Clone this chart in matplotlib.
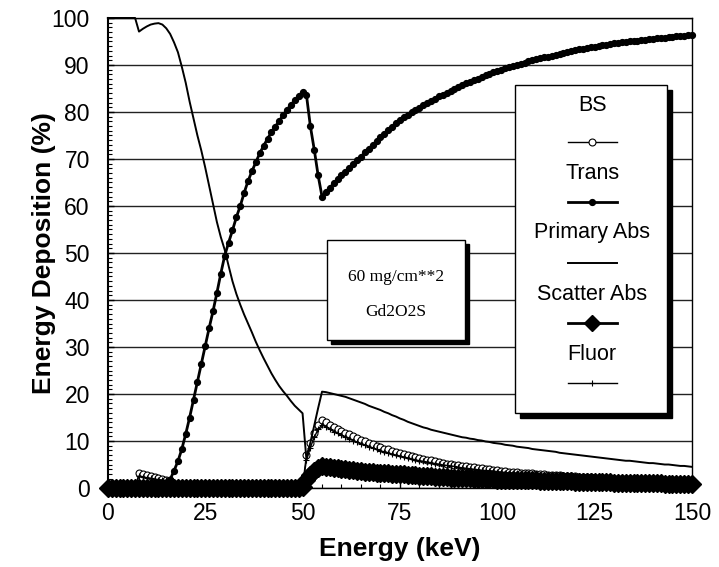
import matplotlib
matplotlib.use("Agg")
import matplotlib.pyplot as plt
from matplotlib.patches import Rectangle
from matplotlib.ticker import MultipleLocator

plt.rcParams['font.family'] = ['Liberation Sans', 'DejaVu Sans']

# ---------------- data ----------------
energy_kev = list(range(0, 151))

bs = [0, 0, 0, 0, 0, 0, 0, 0, 3.1, 2.9,
      2.7, 2.5, 2.3, 2.1, 2.0, 1.8, 1.7, 0.8, 0.6, 0.5,
      0.4, 0.4, 0.4, 0.4, 0.4, 0.4, 0.4, 0.4, 0.4, 0.4,
      0.4, 0.4, 0.4, 0.4, 0.4, 0.4, 0.4, 0.4, 0.4, 0.4,
      0.4, 0.4, 0.4, 0.4, 0.4, 0.4, 0.4, 0.4, 0.4, 0.4,
      0.4, 7.0, 9.6, 11.8, 13.5, 14.5, 14.0, 13.5, 13.0, 12.6,
      12.2, 11.8, 11.4, 11.0, 10.6, 10.3, 9.9, 9.6, 9.3, 9.0,
      8.7, 8.4, 8.2, 7.9, 7.7, 7.4, 7.2, 7.0, 6.8, 6.6,
      6.4, 6.2, 6.0, 5.9, 5.7, 5.5, 5.4, 5.2, 5.1, 5.0,
      4.8, 4.7, 4.6, 4.5, 4.4, 4.3, 4.2, 4.1, 4.0, 3.9,
      3.8, 3.7, 3.6, 3.5, 3.5, 3.4, 3.3, 3.2, 3.2, 3.1,
      3.0, 3.0, 2.9, 2.8, 2.8, 2.7, 2.7, 2.6, 2.6, 2.5,
      2.5, 2.4, 2.4, 2.3, 2.3, 2.2, 2.2, 2.2, 2.1, 2.1,
      2.0, 2.0, 2.0, 1.9, 1.9, 1.9, 1.8, 1.8, 1.8, 1.7,
      1.7, 1.7, 1.7, 1.6, 1.6, 1.6, 1.6, 1.5, 1.5, 1.5,
      1.5]

trans = [0, 0, 0, 0, 0, 0, 0, 0, 0, 0,
         0, 0, 0, 0, 0, 0.3, 1.8, 3.7, 5.7, 8.3,
         11.5, 15.0, 18.8, 22.6, 26.3, 30.2, 34.0, 37.6, 41.5, 45.6,
         49.4, 52.2, 54.8, 57.6, 60.0, 62.8, 65.3, 67.4, 69.3, 71.2,
         72.8, 74.3, 75.7, 76.9, 78.1, 79.3, 80.5, 81.5, 82.5, 83.4,
         84.3, 83.6, 77.0, 72.0, 66.5, 62.0, 63.0, 63.9, 64.8, 65.7,
         66.5, 67.3, 68.1, 68.9, 69.7, 70.5, 71.4, 72.2, 73.0, 73.8,
         74.6, 75.4, 76.1, 76.8, 77.6, 78.3, 78.9, 79.4, 79.9, 80.4,
         80.9, 81.4, 81.9, 82.4, 82.8, 83.3, 83.7, 84.1, 84.5, 84.9,
         85.3, 85.7, 86.1, 86.4, 86.8, 87.1, 87.4, 87.8, 88.1, 88.4,
         88.7, 89.0, 89.3, 89.5, 89.8, 90.0, 90.3, 90.5, 90.8, 91.0,
         91.2, 91.4, 91.6, 91.8, 92.0, 92.2, 92.4, 92.6, 92.8, 93.0,
         93.2, 93.3, 93.5, 93.6, 93.8, 93.9, 94.1, 94.2, 94.3, 94.4,
         94.6, 94.7, 94.8, 94.9, 95.0, 95.1, 95.2, 95.3, 95.4, 95.5,
         95.6, 95.7, 95.8, 95.8, 95.9, 96.0, 96.1, 96.2, 96.2, 96.3,
         96.4]

primary_abs = [100, 100, 100, 100, 100, 100, 100, 100, 97.1, 97.7,
               98.2, 98.6, 98.8, 98.9, 98.6, 97.8, 96.6, 94.8, 92.7, 89.6,
               86.2, 82.2, 78.6, 75.0, 71.8, 68.2, 64.3, 60.4, 56.6, 53.4,
               50.7, 47.3, 44.0, 41.3, 39.0, 36.9, 35.0, 33.1, 31.1, 29.3,
               27.6, 26.0, 24.4, 23.0, 21.7, 20.6, 19.6, 18.5, 17.5, 16.7,
               15.9, 6.0, 9.6, 13.3, 17.0, 20.5, 20.4, 20.2, 20.0, 19.8,
               19.6, 19.4, 19.1, 18.8, 18.5, 18.2, 17.9, 17.5, 17.2, 16.9,
               16.6, 16.2, 15.9, 15.5, 15.2, 14.8, 14.5, 14.1, 13.8, 13.5,
               13.2, 12.9, 12.7, 12.4, 12.2, 12.0, 11.8, 11.6, 11.4, 11.2,
               11.0, 10.8, 10.7, 10.5, 10.4, 10.2, 10.1, 9.9, 9.8, 9.6,
               9.5, 9.4, 9.2, 9.1, 9.0, 8.8, 8.7, 8.6, 8.5, 8.3,
               8.2, 8.1, 8.0, 7.9, 7.8, 7.7, 7.5, 7.4, 7.3, 7.2,
               7.1, 7.0, 6.9, 6.8, 6.7, 6.6, 6.5, 6.4, 6.3, 6.2,
               6.1, 6.0, 5.9, 5.8, 5.8, 5.7, 5.6, 5.5, 5.4, 5.3,
               5.3, 5.2, 5.1, 5.0, 5.0, 4.9, 4.8, 4.7, 4.7, 4.6,
               4.5]

scatter_abs = [0, 0, 0, 0, 0, 0, 0, 0, 0, 0,
               0, 0, 0, 0, 0, 0, 0, 0, 0, 0,
               0, 0, 0, 0, 0, 0, 0, 0, 0, 0,
               0, 0, 0, 0, 0, 0, 0, 0, 0, 0,
               0, 0, 0, 0, 0, 0, 0, 0, 0, 0,
               0.3, 1.8, 2.8, 3.6, 4.2, 4.6, 4.5, 4.4, 4.3, 4.2,
               4.1, 4.0, 3.9, 3.8, 3.7, 3.6, 3.5, 3.5, 3.4, 3.3,
               3.3, 3.2, 3.1, 3.0, 3.0, 2.9, 2.9, 2.8, 2.7, 2.7,
               2.6, 2.6, 2.5, 2.5, 2.4, 2.4, 2.3, 2.3, 2.2, 2.2,
               2.2, 2.1, 2.1, 2.1, 2.0, 2.0, 2.0, 1.9, 1.9, 1.9,
               1.8, 1.8, 1.8, 1.7, 1.7, 1.7, 1.7, 1.6, 1.6, 1.6,
               1.6, 1.5, 1.5, 1.5, 1.5, 1.4, 1.4, 1.4, 1.4, 1.4,
               1.3, 1.3, 1.3, 1.3, 1.3, 1.2, 1.2, 1.2, 1.2, 1.2,
               1.1, 1.1, 1.1, 1.1, 1.1, 1.1, 1.0, 1.0, 1.0, 1.0,
               1.0, 1.0, 1.0, 0.9, 0.9, 0.9, 0.9, 0.9, 0.9, 0.9,
               0.9]

fluor = [0, 0, 0, 0, 0, 0, 0, 0, 2.6, 2.4,
         2.2, 2.1, 1.9, 1.8, 1.7, 1.6, 1.5, 0.3, 0.3, 0.3,
         0.3, 0.3, 0.3, 0.3, 0.3, 0.3, 0.3, 0.3, 0.3, 0.3,
         0.3, 0.3, 0.3, 0.3, 0.3, 0.3, 0.3, 0.3, 0.3, 0.3,
         0.3, 0.3, 0.3, 0.3, 0.3, 0.3, 0.3, 0.3, 0.3, 0.3,
         0.3, 6.0, 8.6, 10.8, 12.5, 13.4, 13.0, 12.5, 12.0, 11.6,
         11.2, 10.8, 10.4, 10.1, 9.7, 9.4, 9.1, 8.8, 8.5, 8.2,
         7.9, 7.7, 7.5, 7.2, 7.0, 6.8, 6.6, 6.4, 6.2, 6.0,
         5.8, 5.7, 5.5, 5.4, 5.2, 5.1, 4.9, 4.8, 4.7, 4.6,
         4.4, 4.3, 4.2, 4.1, 4.0, 3.9, 3.8, 3.7, 3.7, 3.6,
         3.5, 3.4, 3.3, 3.2, 3.2, 3.1, 3.0, 3.0, 2.9, 2.8,
         2.8, 2.7, 2.7, 2.6, 2.6, 2.5, 2.5, 2.4, 2.4, 2.3,
         2.3, 2.2, 2.2, 2.1, 2.1, 2.0, 2.0, 2.0, 1.9, 1.9,
         1.9, 1.8, 1.8, 1.8, 1.7, 1.7, 1.7, 1.6, 1.6, 1.6,
         1.5, 1.5, 1.5, 1.5, 1.4, 1.4, 1.4, 1.4, 1.3, 1.3,
         1.3]

series_labels = ["BS", "Trans", "Primary Abs", "Scatter Abs", "Fluor"]
x_ticks = [0, 25, 50, 75, 100, 125, 150]
y_ticks = [0, 10, 20, 30, 40, 50, 60, 70, 80, 90, 100]
box_lines = ["60 mg/cm**2", "Gd2O2S"]

# ---------------- figure ----------------
fig = plt.figure(figsize=(7.19, 5.67), dpi=100)
ax = fig.add_axes([0.150, 0.1393, 0.8124, 0.8290])

styles = [
    dict(color='black', lw=1.0, marker='o', ms=5, mfc='white', mec='black', mew=0.8),
    dict(color='black', lw=2.0, marker='o', ms=4.2, mfc='black', mec='black'),
    dict(color='black', lw=1.4, marker=None),
    dict(color='black', lw=2.0, marker='D', ms=9.5, mfc='black', mec='black'),
    dict(color='black', lw=1.0, marker='+', ms=4.5, mew=0.8),
]
series = [bs, trans, primary_abs, scatter_abs, fluor]
for vals, st in zip(series, styles):
    ax.plot(energy_kev, vals, clip_on=False, zorder=3, **st)

ax.set_xlim(0, 150)
ax.set_ylim(0, 100)
ax.set_xticks(x_ticks)
ax.set_yticks(y_ticks)
ax.xaxis.set_minor_locator(MultipleLocator(5))
ax.yaxis.set_minor_locator(MultipleLocator(1))
ax.tick_params(axis='both', which='major', direction='in', length=4, width=1,
               labelsize=16.5, color='black')
ax.tick_params(axis='y', which='major', pad=13)
ax.tick_params(axis='x', which='major', pad=10)
ax.tick_params(axis='both', which='minor', direction='in', length=3, width=0.8)
ax.grid(axis='y', which='major', color='#222222', lw=1.0)
ax.set_axisbelow(True)
for s in ['top', 'right', 'bottom']:
    ax.spines[s].set_linewidth(1.0)
ax.spines['left'].set_linewidth(1.5)

ax.set_xlabel("Energy (keV)", fontsize=19, fontweight='bold', labelpad=9)
ax.set_ylabel("Energy Deposition (%)", fontsize=19, fontweight='bold', labelpad=-3)

# ---------------- legend (labels above samples) ----------------
T = ax.transAxes
sx, sy = 0.0086, 0.0106
lx0, lx1, ly0, ly1 = 0.697, 0.958, 0.160, 0.857
ax.add_patch(Rectangle((lx0 + sx, ly0 - sy), lx1 - lx0, ly1 - ly0, transform=T,
                       facecolor='black', edgecolor='black', zorder=5, clip_on=False))
ax.add_patch(Rectangle((lx0, ly0), lx1 - lx0, ly1 - ly0, transform=T,
                       facecolor='white', edgecolor='black', lw=1.0, zorder=6, clip_on=False))
text_y = [0.813, 0.670, 0.543, 0.411, 0.283]
handle_y = [0.737, 0.609, 0.479, 0.351, 0.223]
hx0, hx1 = 0.787, 0.871
hxc = (hx0 + hx1) / 2
for lab, st, ty, hy in zip(series_labels, styles, text_y, handle_y):
    ax.text(hxc, ty, lab, transform=T, ha='center', va='center', fontsize=15.5, zorder=7)
    st2 = dict(st)
    if st2.get('marker') == 'D':
        st2['ms'] = 8
    ax.plot([hx0, hxc, hx1], [hy, hy, hy], transform=T, markevery=[1],
            zorder=7, clip_on=False, **st2)

# ---------------- annotation box ----------------
bx0, bx1, by0, by1 = 0.375, 0.611, 0.315, 0.528
ax.add_patch(Rectangle((bx0 + sx * 0.8, by0 - sy * 0.8), bx1 - bx0, by1 - by0, transform=T,
                       facecolor='black', edgecolor='black', zorder=5))
ax.add_patch(Rectangle((bx0, by0), bx1 - bx0, by1 - by0, transform=T,
                       facecolor='white', edgecolor='black', lw=1.0, zorder=6))
for txt, ty in zip(box_lines, [0.449, 0.3745]):
    ax.text((bx0 + bx1) / 2, ty, txt, transform=T, ha='center', va='center',
            fontsize=12.5, family=['Liberation Serif', 'DejaVu Serif'], zorder=7)

fig.savefig("out.png", dpi=100)
